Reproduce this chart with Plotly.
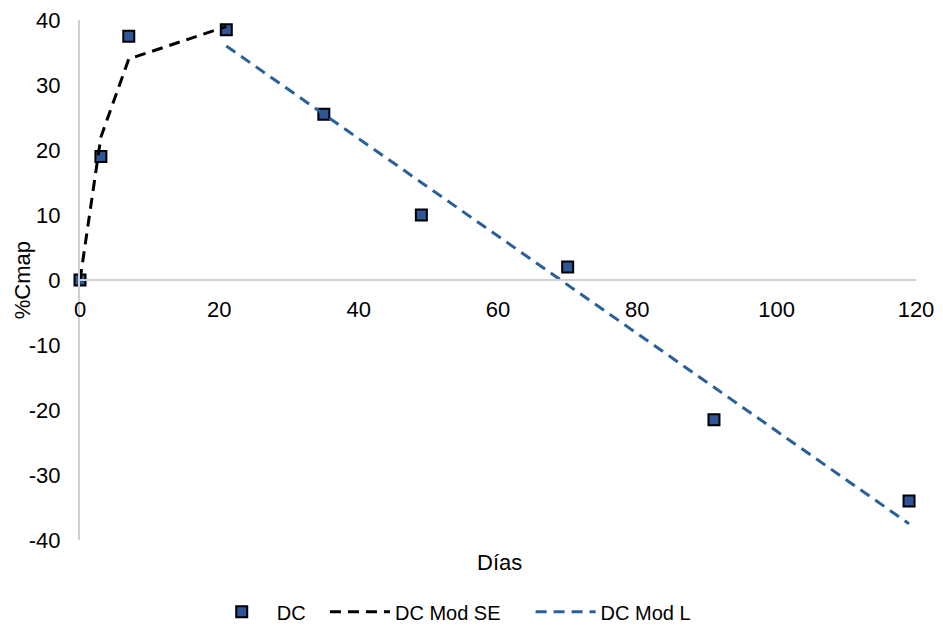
import plotly.graph_objects as go

# Data
dias = [0, 3, 7, 21, 35, 49, 70, 91, 119]
dc = [0, 19, 37.5, 38.5, 25.5, 10, 2, -21.5, -34]

se_x = [0, 3, 7, 21]
se_y = [0, 22, 34, 39]

l_x = [21, 35, 49, 70, 91, 119]
l_y = [36, 25.5, 15, -0.8, -16.5, -37.5]

x_ticks = [0, 20, 40, 60, 80, 100, 120]
y_ticks = [-40, -30, -20, -10, 0, 10, 20, 30, 40]
y_labels = ["-40", "-30", "-20", "-10", "0", "10", "20", "30", "40"]

FONT = "Liberation Sans, Arial, sans-serif"

fig = go.Figure()
fig.add_trace(go.Scatter(
    x=dias, y=dc, mode="markers", name="DC", legend="legend", cliponaxis=False,
    marker=dict(symbol="square", size=11, color="#2F5597",
                line=dict(color="black", width=2)),
))
fig.add_trace(go.Scatter(
    x=se_x, y=se_y, mode="lines", name="DC Mod SE", legend="legend2", cliponaxis=False,
    line=dict(color="black", width=3, dash="11px,7px"),
))
fig.add_trace(go.Scatter(
    x=l_x, y=l_y, mode="lines", name="DC Mod L", legend="legend3", cliponaxis=False,
    line=dict(color="#2A6099", width=3, dash="11px,7px"),
))

leg_common = dict(orientation="h", y=-0.138, yanchor="middle", xanchor="left",
                  font=dict(size=20), itemwidth=60, bgcolor="rgba(0,0,0,0)")

fig.update_layout(
    width=943, height=627,
    paper_bgcolor="white", plot_bgcolor="white",
    margin=dict(l=80, r=27, t=20, b=87, autoexpand=False),
    font=dict(family=FONT, size=22, color="black"),
    showlegend=True,
    legend=dict(x=0.1516, **leg_common),
    legend2=dict(x=0.293, **leg_common),
    legend3=dict(x=0.539, **leg_common),
    xaxis=dict(
        range=[0, 120], tickvals=x_ticks, showgrid=False, zeroline=False,
        showline=True, linecolor="#D0D0D0", linewidth=2, automargin=False,
        anchor="free", position=0.5, ticks="", ticklabelstandoff=10,
    ),
    yaxis=dict(
        range=[-40, 40], tickvals=y_ticks, ticktext=y_labels, showgrid=False,
        zeroline=False, automargin=False,
        showline=True, linecolor="#D0D0D0", linewidth=2, ticks="",
        ticklabelstandoff=13,
    ),
)

fig.add_annotation(text="Días", xref="paper", yref="paper", x=0.502, y=-0.044,
                   showarrow=False, font=dict(size=22), xanchor="center", yanchor="middle")
fig.add_annotation(text="%Cmap", xref="paper", yref="paper", x=-0.069, y=0.5,
                   showarrow=False, font=dict(size=22), textangle=-90,
                   xanchor="center", yanchor="middle")

fig.write_html("out.html", config={"displayModeBar": False},
               post_script="document.body.style.margin='0';document.body.style.overflow='hidden';")
